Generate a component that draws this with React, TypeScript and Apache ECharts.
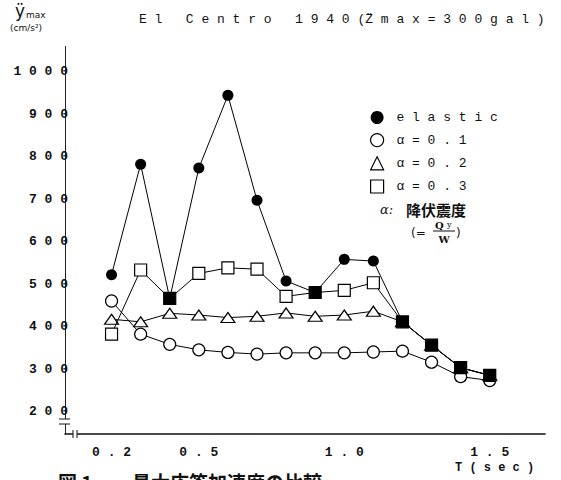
import React, { useEffect, useRef } from "react";
import * as echarts from "echarts";

// ---- data ----
const periods = [0.2, 0.3, 0.4, 0.5, 0.6, 0.7, 0.8, 0.9, 1.0, 1.1, 1.2, 1.3, 1.4, 1.5];
const elastic = [523, 783, 467, 774, 945, 698, 508, 481, 559, 555, 412, 357, 304, 286];
const alpha01 = [461, 383, 359, 346, 340, 336, 339, 339, 339, 341, 343, 317, 283, 274];
const alpha02 = [418, 412, 432, 428, 422, 425, 433, 425, 428, 437, 412, 357, 304, 286];
const alpha03 = [383, 534, 467, 526, 539, 536, 472, 481, 486, 504, 412, 357, 304, 286];
const xTickValues = [0.2, 0.5, 1.0, 1.5];
const yTickValues = [200, 300, 400, 500, 600, 700, 800, 900, 1000];
const seriesNames = ["elastic", "α=0.1", "α=0.2", "α=0.3"];
const titleText = "E l   C e n t r o   1 9 4 0 (Z\u0308 m a x = 3 0 0 g a l )";

const MONO = "Liberation Mono";
const INK = "#111";

export default function App() {
  const ref = useRef<HTMLDivElement>(null);

  useEffect(() => {
    document.body.style.margin = "0";
    const chart = echarts.init(ref.current!, null, { renderer: "svg" });

    const pairs = (ys: number[]) => periods.map((t, i) => [t, ys[i]]);
    const openStyle = { color: "#fff", borderColor: "#000", borderWidth: 1.2 };

    const option: any = {
      animation: false,
      backgroundColor: "#fff",
      title: {
        text: titleText,
        left: 134,
        top: 8,
        textStyle: { fontFamily: MONO, fontSize: 13, fontWeight: "normal", color: INK },
      },
      legend: {
        orient: "vertical",
        left: 365,
        top: 106,
        itemWidth: 13,
        itemHeight: 13,
        itemGap: 9,
        selectedMode: false,
        formatter: (name: string) => " " + name.split("").join(" "),
        textStyle: { fontFamily: MONO, fontSize: 13, color: INK },
        data: [
          { name: seriesNames[0], icon: "circle", itemStyle: { color: "#000" } },
          { name: seriesNames[1], icon: "circle", itemStyle: openStyle },
          { name: seriesNames[2], icon: "triangle", itemStyle: openStyle },
          { name: seriesNames[3], icon: "rect", itemStyle: openStyle },
        ],
      },
      grid: { left: 65, right: 16, top: 46.5, bottom: 46, containLabel: false },
      xAxis: {
        type: "value",
        min: 0.04,
        max: 1.69,
        axisLine: { show: true, lineStyle: { color: "#111", width: 1.6 } },
        axisTick: { show: false },
        splitLine: { show: false },
        axisLabel: {
          customValues: xTickValues,
          formatter: (v: number) => v.toFixed(1).split("").join(" "),
          fontFamily: MONO,
          fontSize: 13,
          fontWeight: "bold",
          color: INK,
          margin: 12,
        },
      },
      yAxis: {
        type: "value",
        min: 148,
        max: 1060,
        axisLine: { show: true, lineStyle: { color: "#222", width: 1 } },
        axisTick: { show: false },
        splitLine: { show: false },
        axisLabel: {
          customValues: yTickValues,
          formatter: (v: number) => String(v).split("").join(" "),
          fontFamily: MONO,
          fontSize: 13,
          fontWeight: "bold",
          color: INK,
          margin: -3,
        },
      },
      series: [
        {
          name: seriesNames[1],
          type: "line",
          data: pairs(alpha01),
          symbol: "circle",
          symbolSize: 12,
          itemStyle: openStyle,
          lineStyle: { color: "#000", width: 1 },
          z: 2,
        },
        {
          name: seriesNames[2],
          type: "line",
          data: pairs(alpha02),
          symbol: "triangle",
          symbolSize: [14, 10],
          itemStyle: openStyle,
          lineStyle: { color: "#000", width: 1 },
          z: 3,
        },
        {
          name: seriesNames[3],
          type: "line",
          data: pairs(alpha03),
          symbol: "rect",
          symbolSize: 12,
          itemStyle: openStyle,
          lineStyle: { color: "#000", width: 1 },
          z: 4,
        },
        {
          name: seriesNames[0],
          type: "line",
          data: periods.map((t, i) => {
            const same = elastic[i] === alpha03[i];
            return {
              value: [t, elastic[i]],
              symbol: same ? "rect" : "circle",
              symbolSize: same ? 12 : 11,
            };
          }),
          itemStyle: { color: "#000", borderColor: "#000", borderWidth: 0 },
          lineStyle: { color: "#000", width: 1 },
          z: 5,
        },
      ],
      graphic: [
        // y-axis name
        { type: "text", x: 15, y: 11, style: { text: "\u00ff", font: "17px 'DejaVu Sans'", fill: INK, verticalAlign: "middle" } },
        { type: "text", x: 26, y: 15, style: { text: "max", font: "9px 'DejaVu Sans'", fill: INK, verticalAlign: "middle" } },
        { type: "text", x: 10, y: 28, style: { text: "(cm/s\u00b2)", font: "9px 'DejaVu Sans'", fill: INK, verticalAlign: "middle" } },
        // x-axis name
        { type: "text", x: 455, y: 468, style: { text: "T ( s e c )", font: "bold 12px 'Liberation Mono'", fill: INK, verticalAlign: "middle" } },
        // axis break marks
        { type: "rect", shape: { x: 58, y: 419, width: 14, height: 5 }, style: { fill: "#fff" }, z: 50 },
        { type: "line", shape: { x1: 59, y1: 419, x2: 70, y2: 419 }, style: { stroke: "#111", lineWidth: 1 }, z: 51 },
        { type: "line", shape: { x1: 59, y1: 424, x2: 70, y2: 424 }, style: { stroke: "#111", lineWidth: 1 }, z: 51 },
        { type: "rect", shape: { x: 73, y: 431, width: 4, height: 6 }, style: { fill: "#fff" }, z: 50 },
        { type: "line", shape: { x1: 73, y1: 430, x2: 73, y2: 438 }, style: { stroke: "#111", lineWidth: 1 }, z: 51 },
        { type: "line", shape: { x1: 77, y1: 430, x2: 77, y2: 438 }, style: { stroke: "#111", lineWidth: 1 }, z: 51 },
        // alpha annotation
        { type: "text", x: 380, y: 209, style: { text: "α:", font: "italic 13px 'DejaVu Serif'", fill: INK, verticalAlign: "middle" } },
        { type: "text", x: 406, y: 209, style: { text: "降伏震度", font: "bold 15px 'Noto Sans CJK JP'", fill: INK, verticalAlign: "middle" } },
        { type: "text", x: 411, y: 233, style: { text: "(=", font: "12px 'DejaVu Sans'", fill: INK, verticalAlign: "middle" } },
        { type: "text", x: 435, y: 225, style: { text: "Q", font: "bold 10px 'DejaVu Serif'", fill: INK, verticalAlign: "middle" } },
        { type: "text", x: 447, y: 224, style: { text: "y", font: "8px 'DejaVu Serif'", fill: INK, verticalAlign: "middle" } },
        { type: "line", shape: { x1: 433, y1: 231, x2: 455, y2: 231 }, style: { stroke: "#111", lineWidth: 1 } },
        { type: "text", x: 444, y: 239, style: { text: "W", font: "bold 10px 'DejaVu Serif'", fill: INK, align: "center", verticalAlign: "middle" } },
        { type: "text", x: 456, y: 233, style: { text: ")", font: "12px 'DejaVu Sans'", fill: INK, verticalAlign: "middle" } },
        // figure caption (cut by bottom edge, as in the reference)
        { type: "text", x: 58, y: 481, style: { text: "図 1", font: "bold 19px 'Noto Sans CJK JP'", fill: INK, verticalAlign: "middle" } },
        { type: "text", x: 132, y: 481, style: { text: "最大応答加速度の比較", font: "bold 19px 'Noto Sans CJK JP'", fill: INK, verticalAlign: "middle" } },
      ],
    };

    chart.setOption(option);
    return () => chart.dispose();
  }, []);

  return <div ref={ref} style={{ width: 561, height: 480 }} />;
}
